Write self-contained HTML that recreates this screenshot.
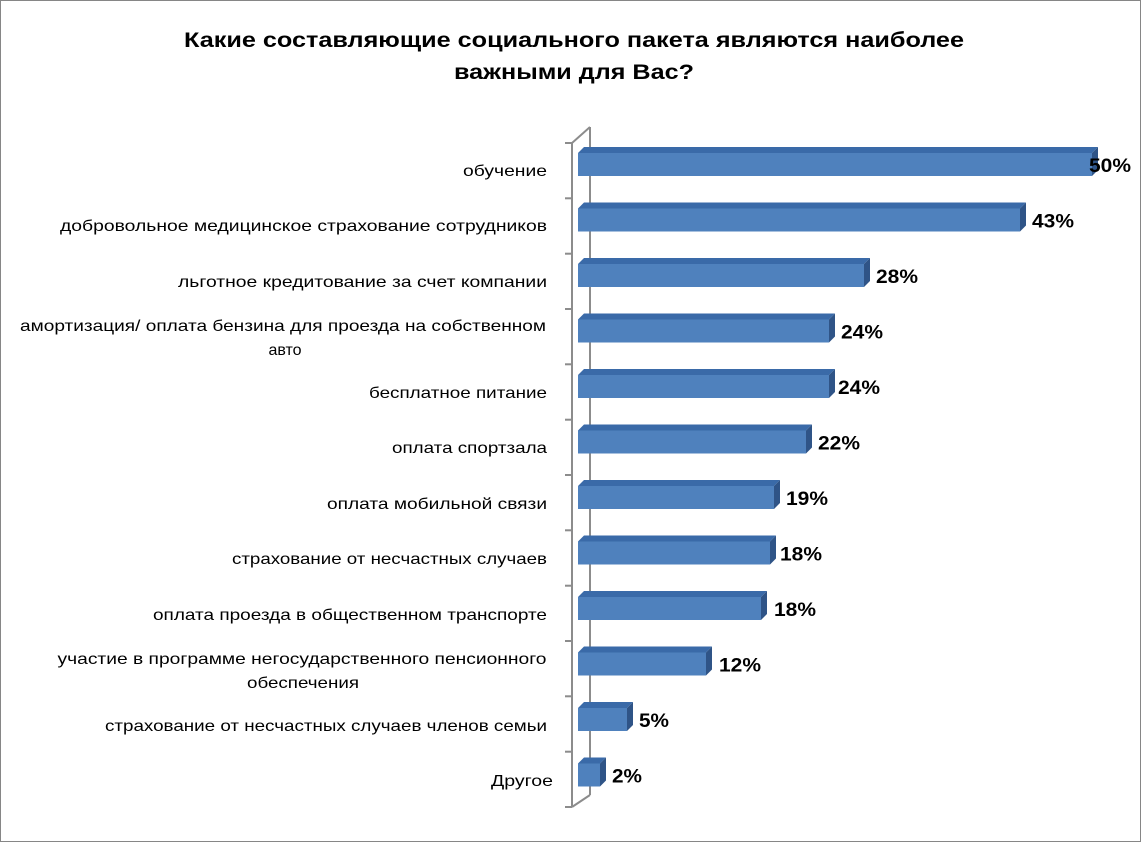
<!DOCTYPE html>
<html><head><meta charset="utf-8"><style>
html,body{margin:0;padding:0;background:#fff}
svg{display:block}
text{font-family:"Liberation Sans",sans-serif}
.t{font-weight:bold;font-size:19px}
.l{font-size:16px}
.top{fill:#3a6aa8}.sd{fill:#2f5487}.fr{fill:#4f81bd}
</style></head><body>
<svg width="1141" height="842" viewBox="0 0 1141 842" xmlns="http://www.w3.org/2000/svg">
<rect x="0.5" y="0.5" width="1140" height="841" fill="#fff" stroke="#868686"/>
<text x="574" y="47" text-anchor="middle" font-weight="bold" font-size="21" textLength="780" lengthAdjust="spacingAndGlyphs">Какие составляющие социального пакета являются наиболее</text>
<text x="574" y="79" text-anchor="middle" font-weight="bold" font-size="21" textLength="240" lengthAdjust="spacingAndGlyphs">важными для Вас?</text>
<g stroke="#8c8c8c" stroke-width="2" fill="none">
<line x1="590" y1="127" x2="590" y2="795"/>
<line x1="572" y1="143" x2="572" y2="807"/>
<line x1="572" y1="143" x2="590" y2="127"/>
<line x1="572" y1="807" x2="590" y2="795"/>
<line x1="565" y1="143" x2="572" y2="143"/>
<line x1="565" y1="198.3" x2="572" y2="198.3"/>
<line x1="565" y1="253.7" x2="572" y2="253.7"/>
<line x1="565" y1="309" x2="572" y2="309"/>
<line x1="565" y1="364.3" x2="572" y2="364.3"/>
<line x1="565" y1="419.7" x2="572" y2="419.7"/>
<line x1="565" y1="475" x2="572" y2="475"/>
<line x1="565" y1="530.3" x2="572" y2="530.3"/>
<line x1="565" y1="585.7" x2="572" y2="585.7"/>
<line x1="565" y1="641" x2="572" y2="641"/>
<line x1="565" y1="696.3" x2="572" y2="696.3"/>
<line x1="565" y1="751.7" x2="572" y2="751.7"/>
<line x1="565" y1="807" x2="572" y2="807"/>
</g>

<polygon class="top" points="578,153 584,147 1098,147 1092,153"/>
<polygon class="sd" points="1092,153 1098,147 1098,170 1092,176"/>
<rect class="fr" x="578" y="153" width="514" height="23"/>
<text class="t" x="1089" y="172" textLength="42" lengthAdjust="spacingAndGlyphs">50%</text>

<polygon class="top" points="578,208.5 584,202.5 1026,202.5 1020,208.5"/>
<polygon class="sd" points="1020,208.5 1026,202.5 1026,225.5 1020,231.5"/>
<rect class="fr" x="578" y="208.5" width="442" height="23"/>
<text class="t" x="1032" y="227.5" textLength="42" lengthAdjust="spacingAndGlyphs">43%</text>

<polygon class="top" points="578,264 584,258 870,258 864,264"/>
<polygon class="sd" points="864,264 870,258 870,281 864,287"/>
<rect class="fr" x="578" y="264" width="286" height="23"/>
<text class="t" x="876" y="283" textLength="42" lengthAdjust="spacingAndGlyphs">28%</text>

<polygon class="top" points="578,319.5 584,313.5 835,313.5 829,319.5"/>
<polygon class="sd" points="829,319.5 835,313.5 835,336.5 829,342.5"/>
<rect class="fr" x="578" y="319.5" width="251" height="23"/>
<text class="t" x="841" y="338.5" textLength="42" lengthAdjust="spacingAndGlyphs">24%</text>

<polygon class="top" points="578,375 584,369 835,369 829,375"/>
<polygon class="sd" points="829,375 835,369 835,392 829,398"/>
<rect class="fr" x="578" y="375" width="251" height="23"/>
<text class="t" x="838" y="394" textLength="42" lengthAdjust="spacingAndGlyphs">24%</text>

<polygon class="top" points="578,430.5 584,424.5 812,424.5 806,430.5"/>
<polygon class="sd" points="806,430.5 812,424.5 812,447.5 806,453.5"/>
<rect class="fr" x="578" y="430.5" width="228" height="23"/>
<text class="t" x="818" y="449.5" textLength="42" lengthAdjust="spacingAndGlyphs">22%</text>

<polygon class="top" points="578,486 584,480 780,480 774,486"/>
<polygon class="sd" points="774,486 780,480 780,503 774,509"/>
<rect class="fr" x="578" y="486" width="196" height="23"/>
<text class="t" x="786" y="505" textLength="42" lengthAdjust="spacingAndGlyphs">19%</text>

<polygon class="top" points="578,541.5 584,535.5 776,535.5 770,541.5"/>
<polygon class="sd" points="770,541.5 776,535.5 776,558.5 770,564.5"/>
<rect class="fr" x="578" y="541.5" width="192" height="23"/>
<text class="t" x="780" y="560.5" textLength="42" lengthAdjust="spacingAndGlyphs">18%</text>

<polygon class="top" points="578,597 584,591 767,591 761,597"/>
<polygon class="sd" points="761,597 767,591 767,614 761,620"/>
<rect class="fr" x="578" y="597" width="183" height="23"/>
<text class="t" x="774" y="616" textLength="42" lengthAdjust="spacingAndGlyphs">18%</text>

<polygon class="top" points="578,652.5 584,646.5 712,646.5 706,652.5"/>
<polygon class="sd" points="706,652.5 712,646.5 712,669.5 706,675.5"/>
<rect class="fr" x="578" y="652.5" width="128" height="23"/>
<text class="t" x="719" y="671.5" textLength="42" lengthAdjust="spacingAndGlyphs">12%</text>

<polygon class="top" points="578,708 584,702 633,702 627,708"/>
<polygon class="sd" points="627,708 633,702 633,725 627,731"/>
<rect class="fr" x="578" y="708" width="49" height="23"/>
<text class="t" x="639" y="727" textLength="30" lengthAdjust="spacingAndGlyphs">5%</text>

<polygon class="top" points="578,763.5 584,757.5 606,757.5 600,763.5"/>
<polygon class="sd" points="600,763.5 606,757.5 606,780.5 600,786.5"/>
<rect class="fr" x="578" y="763.5" width="22" height="23"/>
<text class="t" x="612" y="782.5" textLength="30" lengthAdjust="spacingAndGlyphs">2%</text>

<text class="l" x="547" y="176" text-anchor="end" textLength="84" lengthAdjust="spacingAndGlyphs">обучение</text>
<text class="l" x="547" y="231" text-anchor="end" textLength="487" lengthAdjust="spacingAndGlyphs">добровольное медицинское страхование сотрудников</text>
<text class="l" x="547" y="287" text-anchor="end" textLength="369" lengthAdjust="spacingAndGlyphs">льготное кредитование за счет компании</text>
<text class="l" x="283" y="331" text-anchor="middle" textLength="526" lengthAdjust="spacingAndGlyphs">амортизация/ оплата бензина для проезда на собственном</text>
<text class="l" x="285" y="355" text-anchor="middle">авто</text>
<text class="l" x="547" y="398" text-anchor="end" textLength="178" lengthAdjust="spacingAndGlyphs">бесплатное питание</text>
<text class="l" x="547" y="453" text-anchor="end" textLength="155" lengthAdjust="spacingAndGlyphs">оплата спортзала</text>
<text class="l" x="547" y="509" text-anchor="end" textLength="220" lengthAdjust="spacingAndGlyphs">оплата мобильной связи</text>
<text class="l" x="547" y="564" text-anchor="end" textLength="315" lengthAdjust="spacingAndGlyphs">страхование от несчастных случаев</text>
<text class="l" x="547" y="620" text-anchor="end" textLength="394" lengthAdjust="spacingAndGlyphs">оплата проезда в общественном транспорте</text>
<text class="l" x="302" y="664" text-anchor="middle" textLength="489" lengthAdjust="spacingAndGlyphs">участие в программе негосударственного пенсионного</text>
<text class="l" x="303" y="688" text-anchor="middle" textLength="112" lengthAdjust="spacingAndGlyphs">обеспечения</text>
<text class="l" x="547" y="731" text-anchor="end" textLength="442" lengthAdjust="spacingAndGlyphs">страхование от несчастных случаев членов семьи</text>
<text class="l" x="553" y="786" text-anchor="end" textLength="62" lengthAdjust="spacingAndGlyphs">Другое</text>
</svg>
</body></html>
